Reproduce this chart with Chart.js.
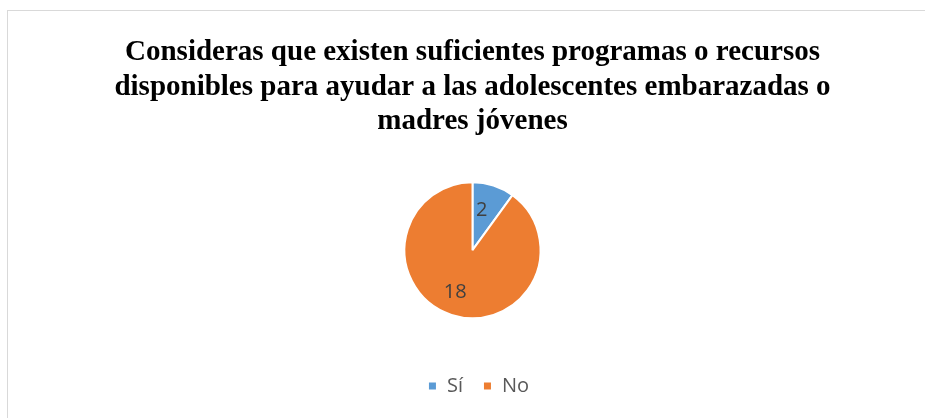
<!DOCTYPE html>
<html>
<head>
<meta charset="utf-8">
<script src="https://cdn.jsdelivr.net/npm/chart.js@4.4.1/dist/chart.umd.min.js"></script>
<style>
	html, body { margin: 0; padding: 0; background: #fff; overflow: hidden; }
	#frame { position: absolute; left: 7px; top: 10px; width: 940px; height: 440px; border: 1px solid #d9d9d9; }
	#wrap { position: absolute; left: 10px; top: 0; width: 925px; height: 418px; }
</style>
</head>
<body>
<div id="frame"></div>
<div id="wrap"><canvas id="chart"></canvas></div>
<script>
// Chart data
var categories = ['Sí', 'No'];
var values = [2, 18];
var colors = ['#5B9BD5', '#ED7D31'];
var titleLines = [
	'Consideras que existen suficientes programas o recursos',
	'disponibles para ayudar a las adolescentes embarazadas o',
	'madres jóvenes'
];

// Draw the value inside each slice
var sliceLabels = {
	id: 'sliceLabels',
	afterDatasetsDraw: function(chart) {
		let ctx = chart.ctx;
		let meta = chart.getDatasetMeta(0);
		ctx.save();
		ctx.font = '20px "Open Sans", sans-serif';
		ctx.fillStyle = '#404040';
		ctx.textAlign = 'center';
		ctx.textBaseline = 'middle';
		meta.data.forEach(function(arc, i) {
			let mid = (arc.startAngle + arc.endAngle) / 2;
			let r = arc.outerRadius * 0.63;
			ctx.fillText(chart.data.datasets[0].data[i], arc.x + Math.cos(mid) * r - 4, arc.y + Math.sin(mid) * r + 1);
		});
		ctx.restore();
	}
};

// Nudge the legend a little to the right, like the original
var legendShift = {
	id: 'legendShift',
	beforeDraw: function(chart) {
		if(chart.legend && !chart.legend._shifted) {
			chart.legend.left += 6;
			chart.legend.right += 6;
			chart.legend._shifted = true;
		}
	}
};

new Chart(document.getElementById('chart').getContext('2d'), {
	type: 'pie',
	data: {
		labels: categories,
		datasets: [{
			data: values,
			backgroundColor: colors,
			borderColor: '#ffffff',
			borderWidth: 2,
			radius: 68
		}]
	},
	options: {
		responsive: true,
		maintainAspectRatio: false,
		animation: false,
		layout: { padding: { top: 35, bottom: 12 } },
		plugins: {
			title: {
				display: true,
				text: titleLines,
				color: '#000000',
				font: { family: '"Liberation Serif", "Times New Roman", serif', size: 29, weight: 'bold', lineHeight: 1.2 },
				padding: { top: 0, bottom: 5 }
			},
			legend: {
				position: 'bottom',
				labels: {
					boxWidth: 9,
					boxHeight: 9,
					padding: 20,
					color: '#595959',
					font: { family: '"Open Sans", sans-serif', size: 20 }
				}
			},
			tooltip: { enabled: false }
		}
	},
	plugins: [sliceLabels, legendShift]
});
</script>
</body>
</html>
